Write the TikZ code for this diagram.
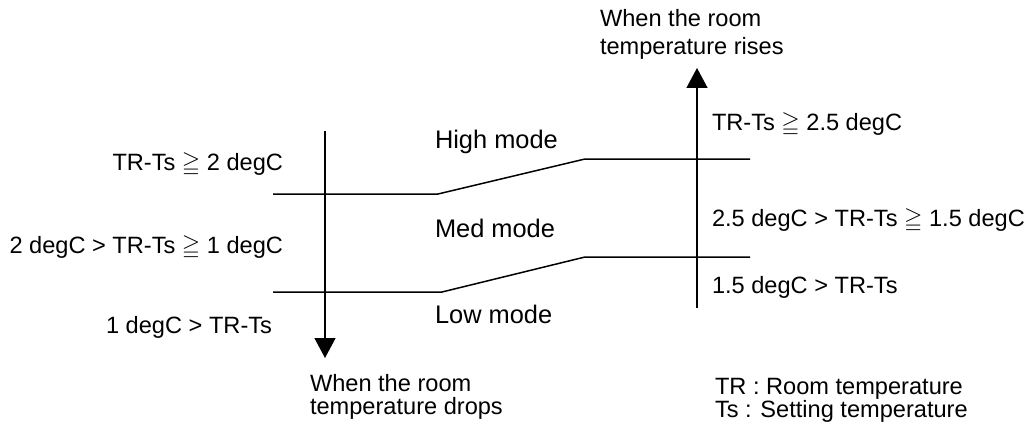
\documentclass[tikz,border=0pt]{standalone}
\usepackage{fontspec}
\usepackage{amssymb}
\setmainfont{Liberation Sans}
\usetikzlibrary{arrows.meta}

\begin{document}
\begin{tikzpicture}[x=1pt, y=-1pt, font=\fontsize{23.6}{28}\selectfont]
		\tikzset{lbl/.style={inner sep=0pt, outer sep=0pt}};
		\tikzset{mode/.style={lbl, anchor=base west, font=\fontsize{25.4}{30}\selectfont}};
		\tikzset{bnd/.style={line width=1.5pt}};
		\tikzset{dir/.style={line width=1.5pt, -{Triangle[width=21pt, length=20pt]}}};

		\useasboundingbox (0, 0) rectangle (1027, 425);

		% switching lines
		\coordinate (h1) at (273, 194);
		\coordinate (h2) at (438, 194);
		\coordinate (h3) at (585, 159);
		\coordinate (h4) at (750, 159);
		\coordinate (l1) at (273, 292);
		\coordinate (l2) at (442, 292);
		\coordinate (l3) at (585, 257);
		\coordinate (l4) at (750, 257);

		\draw[bnd] (h1) to (h2) to (h3) to (h4);
		\draw[bnd] (l1) to (l2) to (l3) to (l4);

		% arrows
		\coordinate (da) at (325, 131);
		\coordinate (db) at (325, 358);
		\coordinate (ra) at (697, 308);
		\coordinate (rb) at (697, 68);

		\draw[dir] (da) to (db);
		\draw[dir] (ra) to (rb);

		% modes
		\node[mode] (high) at (435, 148) {High mode};
		\node[mode] (med) at (435, 237) {Med mode};
		\node[mode] (low) at (435, 323) {Low mode};

		% drop side
		\node[lbl, anchor=base east] (dhi) at (283, 170) {TR-Ts $\geqq$ 2 degC};
		\node[lbl, anchor=base east] (dmed) at (283, 253) {2 degC > TR-Ts $\geqq$ 1 degC};
		\node[lbl, anchor=base east] (dlow) at (272, 333) {1 degC > TR-Ts};

		% rise side
		\node[lbl, anchor=base west] (rhi) at (712, 130) {TR-Ts $\geqq$ 2.5 degC};
		\node[lbl, anchor=base west] (rmed) at (712, 226) {2.5 degC > TR-Ts $\geqq$ 1.5 degC};
		\node[lbl, anchor=base west] (rlow) at (712, 293) {1.5 degC > TR-Ts};

		% two-line texts (base = last line)
		\node[lbl, anchor=base west, align=left] (rise) at (600, 55) {When the room\\temperature rises};
		\node[lbl, anchor=base west, align=left, font=\fontsize{23.6}{23}\selectfont] (drop) at (310, 414) {When the room\\temperature drops};
		\node[lbl, anchor=base west, align=left, font=\fontsize{23.6}{23}\selectfont] (key) at (715, 417) {TR : Room temperature\\Ts : Setting temperature};
	\end{tikzpicture}
\end{document}
